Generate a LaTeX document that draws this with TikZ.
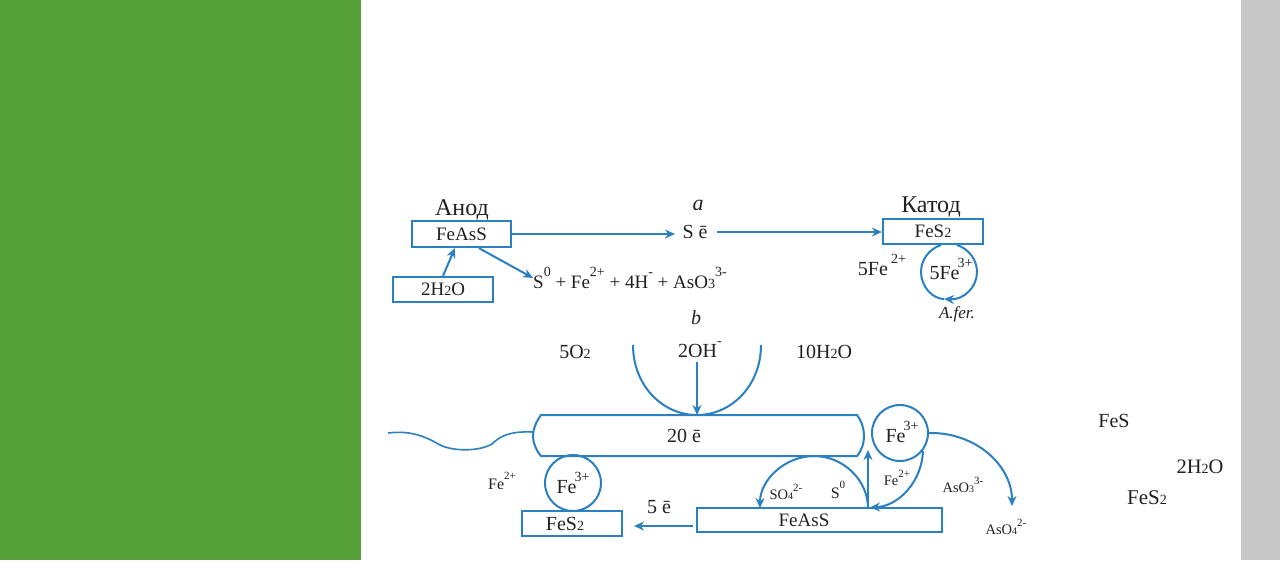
\documentclass[tikz,border=0pt]{standalone}
\usepackage{fontspec}
\setmainfont{Liberation Serif}
\usetikzlibrary{arrows.meta}
\definecolor{bluel}{HTML}{2A80C0}
\definecolor{greenp}{HTML}{55A038}
\definecolor{greyp}{HTML}{C8C8C8}
\definecolor{inkt}{HTML}{222222}
\newcommand{\fsz}[1]{\fontsize{#1}{#1}\selectfont}
\newcommand{\sbs}[1]{{\fontsize{14}{14}\selectfont #1}}
\newcommand{\sps}[1]{\raisebox{0.6em}{\fontsize{14}{14}\selectfont #1}}
\newcommand{\smsb}[1]{{\fontsize{10}{10}\selectfont #1}}
\newcommand{\smsp}[1]{\raisebox{0.6em}{\fontsize{11}{11}\selectfont #1}}
\tikzset{
 x=1pt,y=-1pt,
 line/.style={draw=bluel,line width=2pt},
 arr/.style={line,-{Stealth[length=10pt,width=9pt]}},
 boxn/.style={draw=bluel,line width=2.2pt,rectangle,inner sep=0pt,text=inkt,font=\fsz{19}},
 circn/.style={draw=bluel,line width=2pt,circle,inner sep=0pt,minimum size=56pt,text=inkt,font=\fsz{20}},
 lab/.style={text=inkt,inner sep=0pt,font=\fsz{20}},
 lbig/.style={lab,font=\fsz{24}},
 small/.style={lab,font=\fsz{14.5}},
}
\begin{document}
\begin{tikzpicture}
\useasboundingbox (0,0) rectangle (1280,560);
\fill[white] (0,0) rectangle (1280,560);
\fill[greenp] (0,0) rectangle (361,560);
\fill[greyp] (1241,0) rectangle (1280,560);

% part a
\node[lbig] (anodl) at (462,210) {Анод};
\node[lab,font=\fsz{22}\itshape] (al) at (698,205) {a};
\node[lbig] (catl) at (931,207) {Катод};
\node[boxn,minimum width=99pt,minimum height=26pt] (anode) at (461.5,234) {FeAsS};
\node[boxn,minimum width=100pt,minimum height=25pt] (wat) at (443,289.5) {2H\sbs{2}O};
\node[boxn,minimum width=100pt,minimum height=25pt] (cath) at (933,231.5) {FeS\sbs{2}};
\node[lab] (se) at (695,232) {S ē};
\node[lab,anchor=west,font=\fsz{19}] (prod) at (533,278) {S\sps{0} + Fe\sps{2+} + 4H\sps{-} + AsO\sbs{3}\sps{3-}};
\node[lab] (fe5a) at (882,265) {5Fe\,\sps{2+}};
\node[lab] (fe5b) at (951,269) {5Fe\kern-2pt\sps{3+}};
\node[lab,font=\fsz{17}\itshape] (afer) at (957,314) {A.fer.};
\coordinate (seL) at (675,234);
\coordinate (seR) at (717,232);
\coordinate (ca) at (941,245);
\coordinate (cb) at (957,245);
\coordinate (cbot) at (944,299);
\draw[arr] (anode.east) -- (seL);
\draw[arr] (seR) -- (cath.west |- seR);
\draw[arr] (wat.north) -- (anode.245);
\draw[arr] (anode.-39) -- (prod.west);
\draw[line] (ca) .. controls (929,249) and (921,260) .. (921,272)
  .. controls (921,287) and (933,299) .. (cbot);
\draw[arr] (cb) .. controls (969,249) and (977,260) .. (977,272)
  .. controls (977,287) and (964,300) .. (cbot);

% part b
\node[lab,font=\fsz{20}\itshape] (bl) at (696,318) {b};
\node[lab] (ot) at (575,352) {5O\sbs{2}};
\node[lab] (oh) at (700,350) {2OH\sps{-}};
\node[lab] (tw) at (824,352) {10H\sbs{2}O};
\coordinate (tl) at (633,345);
\coordinate (tr) at (761,345);
\coordinate (tb) at (697,415);
\coordinate (ohb) at (697,362);
\draw[line,fill=white]
  (541,415) -- (857,415) .. controls (862,422) and (864,429) .. (864,436)
  .. controls (864,443) and (862,450) .. (857,456) -- (541,456)
  .. controls (536,450) and (533,443) .. (533,436)
  .. controls (533,429) and (536,422) .. (541,415) -- cycle;
\node[lab] (twe) at (684,436) {20 ē};
\draw[line] (tl) .. controls (633,385) and (662,415) .. (tb) .. controls (732,415) and (761,385) .. (tr);
\draw[arr] (ohb) -- (tb);
\coordinate (wv) at (388,433);
\draw[line,line width=1.6pt] (wv) .. controls (405,431) and (420,433) .. (440,445)
  .. controls (455,452) and (480,451) .. (492,444)
  .. controls (500,436) and (510,431) .. (533,432);

\node[circn] (cl) at (573,483) {Fe\kern-2pt\sps{3+}};
\node[boxn,minimum width=100pt,minimum height=25pt,font=\fsz{20}] (fs) at (572,523.5) {FeS\sbs{2}\kern14pt};
\node[lab,font=\fsz{16}] (fl) at (502,481) {Fe\smsp{2+}};
\node[lab] (five) at (659,507) {5 ē};
\node[boxn,minimum width=245pt,minimum height=24pt] (fa) at (819.5,520) {};
\node[lab,font=\fsz{19}] (fat) at (804,520) {FeAsS};
\node[circn] (cr) at (900,433) {};
\node[lab] (crt) at (902,432) {Fe\kern-2pt\sps{3+}};
\coordinate (fb) at (868,508);
\coordinate (e5a) at (693,526);
\coordinate (e5b) at (634,526);
\draw[arr] (e5a) -- (e5b);
\draw[arr] (fb) .. controls (868,480) and (843,456) .. (814,456)
  .. controls (785,456) and (760,480) .. (760,508);
\draw[arr] (fb) -- (868,450);
\draw[arr] (923,451) .. controls (922,480) and (900,506) .. (870,507.5);
\draw[arr] (cr.east) .. controls (975,432) and (1012,465) .. (1012,506);
\node[small] (so) at (786,492) {SO\smsb{4}\smsp{2-}};
\node[lab,font=\fsz{16}] (sz) at (838,490) {S\smsp{0}};
\node[small] (fm) at (897,478) {Fe\smsp{2+}};
\node[small] (as3) at (963,485) {AsO\smsb{3}\smsp{3-}};
\node[small] (as4) at (1006,527) {AsO\smsb{4}\smsp{2-}};
\node[lab] (fes) at (1114,421) {FeS};
\node[lab,font=\fsz{20.5}] (w2) at (1200,467) {2H\sbs{2}O};
\node[lab,font=\fsz{21}] (fs2) at (1147,498) {FeS\sbs{2}};
\end{tikzpicture}
\end{document}
